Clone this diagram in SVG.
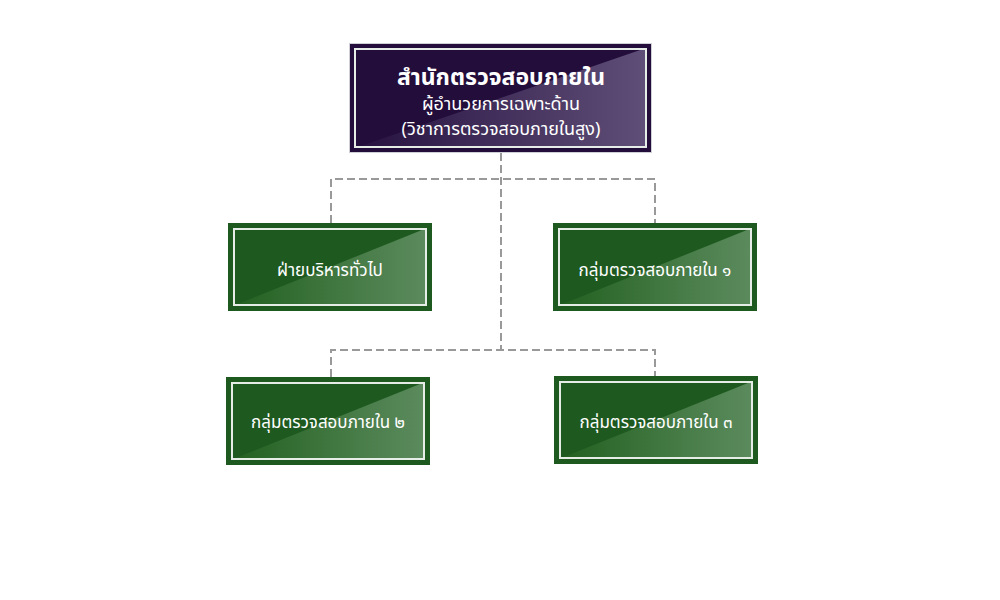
<svg xmlns="http://www.w3.org/2000/svg" width="1000" height="600" viewBox="0 0 1000 600">
<defs>
<linearGradient id="gGreen" x1="0" y1="0" x2="1" y2="0">
<stop offset="0" stop-color="#22601f"/>
<stop offset="1" stop-color="#5c8b5e"/>
</linearGradient>
<linearGradient id="gPurple" x1="0" y1="0" x2="1" y2="0">
<stop offset="0" stop-color="#26113f"/>
<stop offset="1" stop-color="#5f4f78"/>
</linearGradient>
<style>
.g-out{fill:#1e5a20;}
.g-shine{fill:url(#gGreen);}
.p-out{fill:#230d3b;stroke:#cfcfd6;stroke-width:1;}
.p-shine{fill:url(#gPurple);}
.inner{fill:none;stroke:#e6ece6;stroke-width:2;}
.conn{fill:none;stroke:#999999;stroke-width:2;stroke-dasharray:8 4;}
.t{font-family:"Noto Sans Thai","Noto Sans","DejaVu Sans",sans-serif;fill:#ffffff;text-anchor:middle;}
.t1{font-size:23px;font-weight:bold;}
.t2{font-size:18px;font-weight:normal;}
.tb{font-size:17px;}
</style>
</defs>
<g id="connectors">
<path class="conn" d="M501,153 V349"/>
<path class="conn" d="M331,223 V179 H655 V223"/>
<path class="conn" d="M331,377 V350 H655 V377"/>
</g>
<g id="node-office" transform="translate(349,43)">
<rect class="p-out" x="0.5" y="0.5" width="302" height="109"/>
<polygon class="p-shine" points="297,5 297,105 6,105"/>
<rect class="inner" x="6" y="6" width="291" height="98"/>
<text class="t" x="152" y="42"><tspan class="t1" x="152" y="42">สำนักตรวจสอบภายใน</tspan><tspan class="t2" x="152" y="67">ผู้อำนวยการเฉพาะด้าน</tspan><tspan class="t2" x="152" y="92">(วิชาการตรวจสอบภายในสูง)</tspan></text>
</g>
<g id="node-admin" transform="translate(228,223)">
<rect class="g-out" x="0" y="0" width="204" height="88"/>
<polygon class="g-shine" points="199,5 199,83 5,83"/>
<rect class="inner" x="6" y="6" width="192" height="76"/>
<text class="t tb" x="102" y="53">ฝ่ายบริหารทั่วไป</text>
</g>
<g id="node-audit1" transform="translate(553,223)">
<rect class="g-out" x="0" y="0" width="204" height="88"/>
<polygon class="g-shine" points="199,5 199,83 5,83"/>
<rect class="inner" x="6" y="6" width="192" height="76"/>
<text class="t tb" x="102" y="53">กลุ่มตรวจสอบภายใน ๑</text>
</g>
<g id="node-audit2" transform="translate(226,377)">
<rect class="g-out" x="0" y="0" width="204" height="88"/>
<polygon class="g-shine" points="199,5 199,83 5,83"/>
<rect class="inner" x="6" y="6" width="192" height="76"/>
<text class="t tb" x="102" y="51">กลุ่มตรวจสอบภายใน ๒</text>
</g>
<g id="node-audit3" transform="translate(554,376)">
<rect class="g-out" x="0" y="0" width="204" height="88"/>
<polygon class="g-shine" points="199,5 199,83 5,83"/>
<rect class="inner" x="6" y="6" width="192" height="76"/>
<text class="t tb" x="102" y="52">กลุ่มตรวจสอบภายใน ๓</text>
</g>
</svg>
